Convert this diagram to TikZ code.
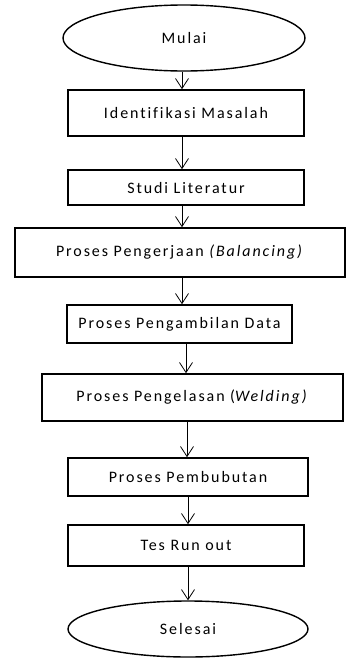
\documentclass[tikz,border=0pt]{standalone}
\usepackage{fontspec}
\setmainfont{Carlito}[LetterSpace=12,Ligatures={NoCommon}]
\usepackage{tikz}
\usetikzlibrary{shapes.geometric,arrows.meta}

\begin{document}
\begin{tikzpicture}[x=1pt,y=-1pt,
  every node/.style={font=\fontsize{16}{18}\selectfont, inner sep=0pt},
  box/.style={draw, line width=1.6pt, rectangle},
  oval/.style={draw, line width=1.4pt, ellipse},
  arr/.style={line width=0.8pt, -{Straight Barb[length=10pt,width=13pt]}}]
\useasboundingbox (0,0) rectangle (347,659);
\node[oval, minimum width=242, minimum height=66] (mulai) at (184,38) {Mulai};
\node[box, minimum width=236, minimum height=46] (ident) at (186,113) {Identifikasi Masalah};
\node[box, minimum width=236, minimum height=35] (studi) at (186,187.5) {Studi Literatur};
\node[box, minimum width=330, minimum height=49] (kerja) at (180,252.5) {Proses Pengerjaan \textit{(Balancing)}};
\node[box, minimum width=225, minimum height=38] (ambil) at (179.5,324) {Proses Pengambilan Data};
\node[box, minimum width=301, minimum height=47] (las) at (192.5,397.5) {Proses Pengelasan (\textit{Welding)}};
\node[box, minimum width=240, minimum height=38] (bubut) at (188,477) {Proses Pembubutan};
\node[box, minimum width=236, minimum height=41] (runout) at (186,545.5) {Tes Run out};
\node[oval, minimum width=240, minimum height=56] (selesai) at (188,629) {Selesai};
% alur
\draw[arr] ([xshift=-2]mulai.south) -- ([xshift=-2]mulai.south |- ident.north);
\draw[arr] ([xshift=-4]ident.south) -- ([xshift=-4]ident.south |- studi.north);
\draw[arr] ([xshift=-4]studi.south) -- ([xshift=-4]studi.south |- kerja.north);
\draw[arr] ([xshift=2]kerja.south) -- ([xshift=2]kerja.south |- ambil.north);
\draw[arr] ([xshift=6.5]ambil.south) -- ([xshift=6.5]ambil.south |- las.north);
\draw[arr] ([xshift=-5.5]las.south) -- ([xshift=-5.5]las.south |- bubut.north);
\draw[arr] (bubut.south) -- (bubut.south |- runout.north);
\draw[arr] ([xshift=2]runout.south) -- ([xshift=2]runout.south |- selesai.north);
\end{tikzpicture}
\end{document}
